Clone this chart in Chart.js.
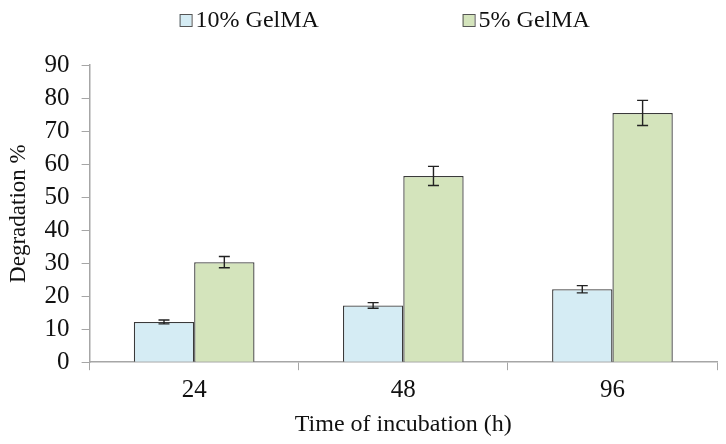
<!DOCTYPE html>
<html>
<head>
<meta charset="utf-8">
<script src="https://cdn.jsdelivr.net/npm/chart.js@4"></script>
<style>
    html, body { margin: 0; padding: 0; background: #fff; }
    #wrap { width: 726px; height: 444px; }
</style>
</head>
<body>
<div id="wrap"><canvas id="myChart" width="726" height="444"></canvas></div>
<script>
// 데이터
const hours = ['24', '48', '96'];
const gel10 = [12.2, 17.2, 22.1];
const gel10Err = [0.6, 0.85, 1.1];
const gel5 = [30.3, 56.4, 75.5];
const gel5Err = [1.7, 2.9, 3.8];
const yTicks = [0, 10, 20, 30, 40, 50, 60, 70, 80, 90];

const serif = '"Liberation Serif", "Times New Roman", serif';
const axisGray = '#a6a6a6';

// 오차 막대 그리기
const errorBars = {
    id: 'errorBars',
    afterDatasetsDraw(chart) {
        const ctx = chart.ctx;
        const yScale = chart.scales.y;
        ctx.save();
        ctx.strokeStyle = '#222';
        ctx.lineWidth = 1.4;
        chart.data.datasets.forEach((ds, i) => {
            chart.getDatasetMeta(i).data.forEach((bar, j) => {
                const v = ds.data[j];
                const e = ds.errors[j];
                const yTop = yScale.getPixelForValue(v + e);
                const yBot = yScale.getPixelForValue(v - e);
                const x = bar.x;
                ctx.beginPath();
                ctx.moveTo(x, yTop); ctx.lineTo(x, yBot);
                ctx.moveTo(x - 5.5, yTop); ctx.lineTo(x + 5.5, yTop);
                ctx.moveTo(x - 5.5, yBot); ctx.lineTo(x + 5.5, yBot);
                ctx.stroke();
            });
        });
        ctx.restore();
    }
};

// 범례 그리기
const topLegend = {
    id: 'topLegend',
    afterDraw(chart) {
        const ctx = chart.ctx;
        const left = chart.chartArea.left;
        const starts = [left + 90, left + 373];
        ctx.save();
        ctx.font = '24px ' + serif;
        ctx.textBaseline = 'middle';
        chart.data.datasets.forEach((ds, i) => {
            const x = starts[i];
            ctx.fillStyle = ds.backgroundColor;
            ctx.fillRect(x, 14, 12, 12);
            ctx.strokeStyle = '#555';
            ctx.lineWidth = 1;
            ctx.strokeRect(x + 0.5, 14.5, 12, 12);
            ctx.fillStyle = '#111';
            ctx.fillText(ds.label, x + 16, 21);
        });
        ctx.restore();
    }
};

const ctx = document.getElementById('myChart').getContext('2d');
new Chart(ctx, {
    type: 'bar',
    data: {
        labels: hours,
        datasets: [{
            label: '10% GelMA',
            data: gel10,
            errors: gel10Err,
            backgroundColor: '#d5ecf4',
            borderColor: '#3a3a3a',
            borderWidth: 1.3,
            categoryPercentage: 0.577,
            barPercentage: 1.0
        }, {
            label: '5% GelMA',
            data: gel5,
            errors: gel5Err,
            backgroundColor: '#d4e4bc',
            borderColor: '#3a3a3a',
            borderWidth: 1.3,
            categoryPercentage: 0.577,
            barPercentage: 1.0
        }]
    },
    options: {
        responsive: false,
        animation: false,
        layout: {
            padding: { top: 65, right: 9, left: 1, bottom: 1 }
        },
        plugins: {
            legend: { display: false },
            tooltip: { enabled: false }
        },
        scales: {
            x: {
                offset: true,
                grid: {
                    offset: true,
                    drawOnChartArea: false,
                    drawTicks: true,
                    tickLength: 8,
                    color: axisGray
                },
                border: { color: axisGray, width: 1.5 },
                ticks: {
                    color: '#111',
                    font: { family: serif, size: 25 },
                    padding: 5
                },
                title: {
                    display: true,
                    text: 'Time of incubation (h)',
                    color: '#111',
                    font: { family: serif, size: 24 },
                    padding: { top: 0, bottom: 4 }
                }
            },
            y: {
                min: 0,
                max: 90,
                afterBuildTicks(axis) {
                    axis.ticks = yTicks.map(v => ({ value: v }));
                },
                grid: {
                    drawOnChartArea: false,
                    drawTicks: true,
                    tickLength: 8,
                    color: axisGray
                },
                border: { color: axisGray, width: 1.5 },
                ticks: {
                    autoSkip: false,
                    color: '#111',
                    font: { family: serif, size: 25 },
                    padding: 12
                },
                title: {
                    display: true,
                    text: 'Degradation %',
                    color: '#111',
                    font: { family: serif, size: 23 },
                    padding: { top: 4, bottom: 0 }
                }
            }
        }
    },
    plugins: [errorBars, topLegend]
});
</script>
</body>
</html>
